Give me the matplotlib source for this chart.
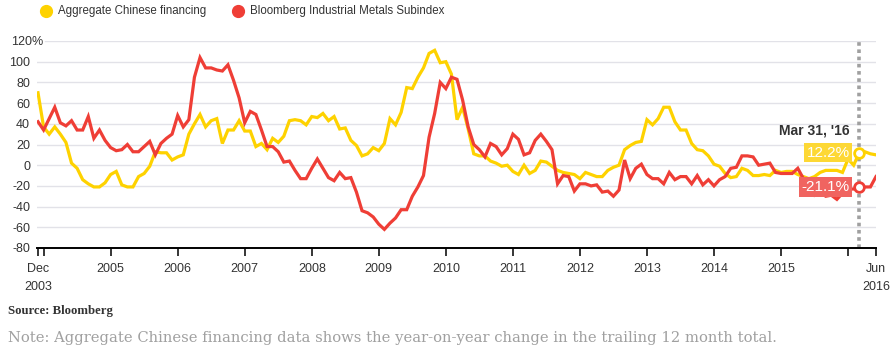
import matplotlib
matplotlib.use("Agg")
import matplotlib.pyplot as plt

# monthly year-on-year change, Dec 2003 .. Jun 2016 (month index 0..150)
financing = [
    70, 37, 30, 37, 30, 22, 2, -3, -14, -18, -21, -21, -17,
    -9, -6, -19, -21, -21, -11, -8, -1, 13, 12, 12, 5,
    8, 10, 30, 40, 49, 37, 43, 45, 21, 34, 34, 43,
    33, 33, 18, 21, 15, 26, 22, 28, 43, 44, 43, 39,
    47, 46, 50, 43, 47, 35, 36, 24, 19, 9, 11, 17,
    14, 21, 45, 39, 51, 75, 74, 85, 94, 108, 111, 99,
    100, 88, 44, 56, 35, 11, 9, 9, 4, 2, -1, 0,
    -6, -9, 0, -8, -5, 4, 3, -1, -5, -7, -8, -9,
    -13, -7, -9, -11, -11, -5, -2, 0, 15, 19, 22, 23,
    44, 39, 45, 56, 56, 42, 34, 34, 21, 15, 14, 9,
    1, -1, -8, -12, -11, -3, -5, -10, -10, -9, -10, -5,
    -7, -6, -6, -9, -11, -13, -11, -7, -5, -5, -5, -7,
    6, 0, 12.2, 13, 11, 10,
]
metals = [
    42, 34, 45, 56, 41, 38, 43, 34, 34, 47, 26, 34, 24,
    17, 14, 15, 20, 13, 13, 18, 23, 10, 21, 26, 30,
    48, 37, 44, 85, 104, 94, 94, 92, 91, 97, 82, 65,
    41, 52, 49, 34, 18, 18, 13, 3, 4, -5, -13, -13,
    -3, 6, -3, -12, -15, -7, -13, -12, -26, -44, -46, -50,
    -57, -62, -56, -51, -43, -43, -30, -21, -10, 27, 50, 80,
    74, 85, 83, 63, 37, 20, 15, 8, 21, 18, 10, 16,
    30, 25, 10, 12, 24, 30, 23, 15, -18, -10, -11, -25,
    -18, -18, -20, -19, -26, -25, -30, -24, 5, -13, -3, 1,
    -9, -13, -13, -18, -7, -14, -11, -11, -18, -10, -19, -14,
    -20, -14, -11, -3, -2, 9, 9, 8, 0, 1, 2, -7,
    -8, -8, -8, -3, -13, -21, -29, -26, -30, -29, -33, -27,
    -23, -23, -21.1, -21, -21, -11,
]
months = list(range(len(financing)))

series_names = ["Aggregate Chinese financing", "Bloomberg Industrial Metals Subindex"]
y_ticks = [-80, -60, -40, -20, 0, 20, 40, 60, 80, 100, 120]
x_ticks = [0, 1, 13, 25, 37, 49, 61, 73, 85, 97, 109, 121, 133, 145, 150]
x_labels = ["Dec\n2003", "", "2005", "2006", "2007", "2008", "2009", "2010",
            "2011", "2012", "2013", "2014", "2015", "", "Jun\n2016"]
hover_idx = 147
hover_label = "Mar 31, '16"

YELLOW = "#fed200"
RED = "#ef3e36"
SANS = "Liberation Sans"
W, H = 893, 354

fig = plt.figure(figsize=(W / 100, H / 100), dpi=100)
ax = fig.add_axes([37 / W, 1 - 248 / H, (876 - 37) / W, (248 - 41) / H])

for v in y_ticks[1:]:
    ax.axhline(v, color="#e2e2e8", lw=1, zorder=0,
               xmin=0.01 if v == 120 else 0)

ax.plot(months, financing, color=YELLOW, lw=2.3, solid_joinstyle="miter", zorder=3)
ax.plot(months, metals, color=RED, lw=2.3, solid_joinstyle="miter", zorder=4)

ax.set_xlim(-0.18, 150)
ax.set_ylim(-80, 120)
for s in ["top", "right", "left"]:
    ax.spines[s].set_visible(False)
ax.spines["bottom"].set_linewidth(1.4)
ax.spines["bottom"].set_color("black")

ax.set_yticks(y_ticks)
ax.set_yticklabels([str(v) for v in y_ticks[:-1]] + [""], family=SANS)
ax.tick_params(axis="y", length=0, pad=5, labelsize=9, labelcolor="#333333")
ax.set_xticks(x_ticks)
ax.set_xticklabels(x_labels, family=SANS)
ax.tick_params(axis="x", length=6, width=1.1, color="black", pad=5,
               labelsize=9, labelcolor="#333333")
for lbl in ax.get_xticklabels():
    lbl.set_linespacing(1.6)
fig.text(11 / W, 1 - 42 / H, "120%", ha="left", va="center", fontsize=9,
         family=SANS, color="#333333")

# hover line and value labels
ax.axvline(hover_idx, color="#a0a0a0", lw=2.6, ls=(0, (1.0, 1.0)), zorder=2)
ax.annotate(hover_label, (hover_idx, 34), xytext=(-7, 0), textcoords="offset points",
            ha="right", va="center", fontsize=10, fontweight="bold", family=SANS,
            color="#333333")
for vals, col, box in [(financing, YELLOW, "#fdd835"), (metals, RED, "#f06460")]:
    v = vals[hover_idx]
    ax.plot([hover_idx], [v], marker="o", ms=7, mfc="white", mec=col, mew=2, zorder=6)
    ax.annotate(f"{v:.1f}%", (hover_idx, v), xytext=(-7, 0), textcoords="offset points",
                ha="right", va="center", fontsize=11, family=SANS, color="white", zorder=7,
                bbox=dict(boxstyle="square,pad=0.18", fc=box, ec="none"))

# legend
for x0, name, col in [(46, series_names[0], YELLOW), (238, series_names[1], RED)]:
    fig.lines.append(plt.Line2D([x0 / W], [1 - 11 / H], marker="o", ms=8.5,
                                color=col, transform=fig.transFigure))
    fig.text((x0 + 12) / W, 1 - 11 / H, name, ha="left", va="center",
             fontsize=8.3, family=SANS, color="#333333")

fig.text(8 / W, 1 - 311 / H, "Source: Bloomberg", ha="left", va="center",
         fontsize=9.2, fontweight="bold", family="Liberation Serif", color="#333333")
fig.text(8 / W, 1 - 338 / H,
         "Note: Aggregate Chinese financing data shows the year-on-year change in the trailing 12 month total.",
         ha="left", va="center", fontsize=10.65, family="DejaVu Serif", color="#a0a0a0")

fig.savefig("out.png", dpi=100)
